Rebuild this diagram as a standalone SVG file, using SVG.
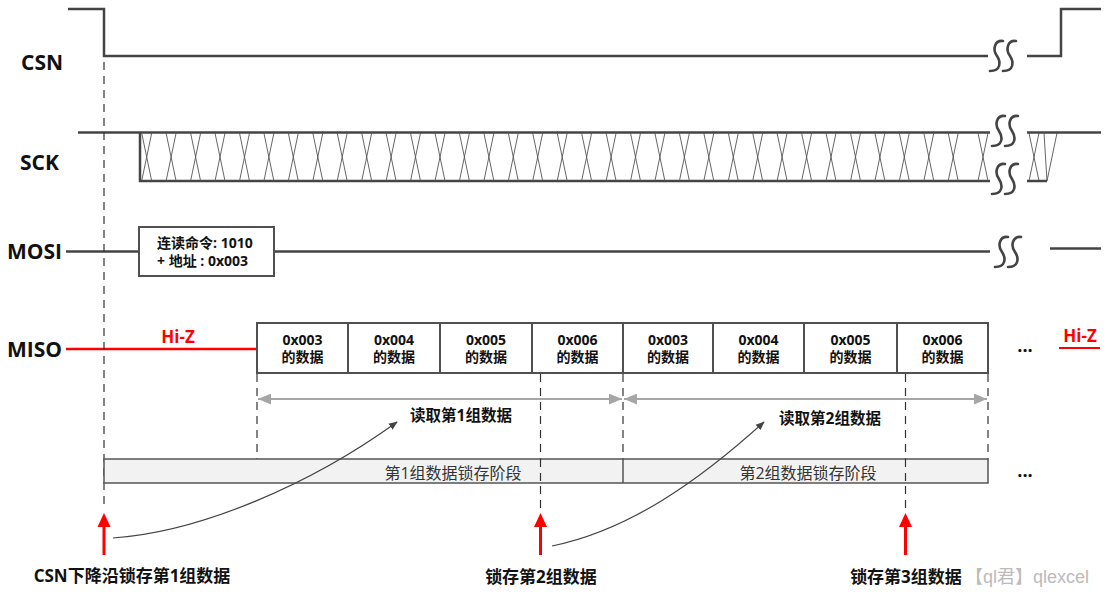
<svg xmlns="http://www.w3.org/2000/svg" xmlns:xlink="http://www.w3.org/1999/xlink" width="1110" height="595" viewBox="0 0 1110 595">
<style>
.sig{fill:none;stroke:#444;stroke-width:2.5}
.dash{fill:none;stroke:#333;stroke-width:1.2;stroke-dasharray:8 6}
.box{fill:#fff;stroke:#505050;stroke-width:2}
.lbl{font-family:"Open Sans","Noto Sans CJK SC",sans-serif;font-weight:bold;font-size:21px;fill:#111}
.bt{font-family:"Open Sans","Noto Sans CJK SC",sans-serif;font-weight:bold;font-size:14px;fill:#111;text-anchor:middle}
.ct{font-family:"Open Sans","Noto Sans CJK SC",sans-serif;font-weight:bold;font-size:15.5px;fill:#111;text-anchor:middle}
.nt{font-family:"Open Sans","Noto Sans CJK SC",sans-serif;font-size:16px;fill:#333;text-anchor:middle}
.red{font-family:"Open Sans","Noto Sans CJK SC",sans-serif;font-weight:bold;font-size:17px;fill:#f00;text-anchor:middle}
.ss{fill:none;stroke:#444;stroke-width:2.6;stroke-linecap:round}
.xx{fill:none;stroke:#555;stroke-width:0.9}
.gray{fill:none;stroke:#a6a6a6;stroke-width:2}
.curve{fill:none;stroke:#444;stroke-width:1.2}
</style>
<defs>
<path id="ss" d="M13 1C5 0 2 9 7 16C11 22 11 31 0 31M26 1C18 0 15 9 20 16C24 22 24 31 13 31"/>
<path id="x" d="M-5 0L5 48M5 0L-5 48"/>
<marker id="ah" viewBox="0 0 10 10" refX="9" refY="5" markerWidth="9" markerHeight="9" markerUnits="userSpaceOnUse" orient="auto">
<path d="M0 1L10 5L0 9z" fill="#444"/>
</marker>
<marker id="gh" viewBox="0 0 12 10" refX="12" refY="5" markerWidth="13" markerHeight="11" markerUnits="userSpaceOnUse" orient="auto-start-reverse">
<path d="M0 0L12 5L0 10z" fill="#a6a6a6"/>
</marker>
</defs>

<g id="labels">
<text class="lbl" x="21" y="70">CSN</text>
<text class="lbl" x="20" y="170">SCK</text>
<text class="lbl" x="7" y="259">MOSI</text>
<text class="lbl" x="7" y="357">MISO</text>
</g>

<g id="csn">
<path class="sig" d="M68 9H104V56H988"/>
<use href="#ss" class="ss" x="990" y="40"/>
<path class="sig" d="M1027 56H1061V9H1101"/>
</g>

<g id="sck">
<path class="sig" d="M78 132.5H990"/>
<path class="sig" d="M140 132.5V181H990"/>
<g class="xx">
<use href="#x" x="146.7" y="133"/><use href="#x" x="171.1" y="133"/><use href="#x" x="195.6" y="133"/><use href="#x" x="220" y="133"/>
<use href="#x" x="244.5" y="133"/><use href="#x" x="268.9" y="133"/><use href="#x" x="293.3" y="133"/><use href="#x" x="317.8" y="133"/>
<use href="#x" x="342.2" y="133"/><use href="#x" x="366.7" y="133"/><use href="#x" x="391.1" y="133"/><use href="#x" x="415.5" y="133"/>
<use href="#x" x="440" y="133"/><use href="#x" x="464.4" y="133"/><use href="#x" x="488.9" y="133"/><use href="#x" x="513.3" y="133"/>
<use href="#x" x="537.7" y="133"/><use href="#x" x="562.2" y="133"/><use href="#x" x="586.6" y="133"/><use href="#x" x="611.1" y="133"/>
<use href="#x" x="635.5" y="133"/><use href="#x" x="659.9" y="133"/><use href="#x" x="684.4" y="133"/><use href="#x" x="708.8" y="133"/>
<use href="#x" x="733.3" y="133"/><use href="#x" x="757.7" y="133"/><use href="#x" x="782.1" y="133"/><use href="#x" x="806.6" y="133"/>
<use href="#x" x="831" y="133"/><use href="#x" x="855.5" y="133"/><use href="#x" x="879.9" y="133"/><use href="#x" x="904.3" y="133"/>
<use href="#x" x="928.8" y="133"/><use href="#x" x="953.2" y="133"/><use href="#x" x="983" y="133"/>
<use href="#x" x="1034" y="133"/>
<path d="M1044 133L1047 181M1057 133L1047 181"/>
</g>
<use href="#ss" class="ss" x="992" y="115"/>
<use href="#ss" class="ss" x="992" y="163"/>
<path class="sig" d="M1027 132.5H1101M1027 181H1047"/>
</g>

<g id="mosi">
<path class="sig" d="M66 251.5H139M274 251.5H990"/>
<rect class="box" x="139" y="227" width="135" height="49"/>
<text class="bt" x="157" y="248" style="text-anchor:start;font-size:14px">连读命令: 1010</text>
<text class="bt" x="157" y="266" style="text-anchor:start;font-size:14px">+ 地址 : 0x003</text>
<use href="#ss" class="ss" x="995" y="236"/>
<path class="sig" d="M1050 248.5H1101"/>
</g>

<g id="miso">
<path d="M66 349H257" fill="none" stroke="#f00" stroke-width="2.5"/>
<text class="red" x="178" y="343">Hi-Z</text>
<g id="d1"><rect class="box" x="257" y="323" width="91" height="50"/><text class="bt" x="302.5" y="345">0x003</text><text class="bt" x="302.5" y="362">的数据</text></g>
<g id="d2"><rect class="box" x="348" y="323" width="92" height="50"/><text class="bt" x="394" y="345">0x004</text><text class="bt" x="394" y="362">的数据</text></g>
<g id="d3"><rect class="box" x="440" y="323" width="92" height="50"/><text class="bt" x="486" y="345">0x005</text><text class="bt" x="486" y="362">的数据</text></g>
<g id="d4"><rect class="box" x="532" y="323" width="91" height="50"/><text class="bt" x="577.5" y="345">0x006</text><text class="bt" x="577.5" y="362">的数据</text></g>
<g id="d5"><rect class="box" x="623" y="323" width="90" height="50"/><text class="bt" x="668" y="345">0x003</text><text class="bt" x="668" y="362">的数据</text></g>
<g id="d6"><rect class="box" x="713" y="323" width="91" height="50"/><text class="bt" x="758.5" y="345">0x004</text><text class="bt" x="758.5" y="362">的数据</text></g>
<g id="d7"><rect class="box" x="804" y="323" width="93" height="50"/><text class="bt" x="850.5" y="345">0x005</text><text class="bt" x="850.5" y="362">的数据</text></g>
<g id="d8"><rect class="box" x="897" y="323" width="91" height="50"/><text class="bt" x="942.5" y="345">0x006</text><text class="bt" x="942.5" y="362">的数据</text></g>
<text class="ct" x="1025" y="352" style="font-size:18px">...</text>
<text class="red" x="1080" y="342">Hi-Z</text>
<path d="M1059 348H1100" fill="none" stroke="#f00" stroke-width="2"/>
</g>

<g id="guides">
<path class="dash" d="M104 62V510"/>
<path class="dash" d="M257 374V459M623 374V459M988 374V459"/>
<path class="dash" d="M540.5 374V510M905.5 374V510"/>
</g>

<g id="read-spans">
<path class="gray" d="M258 399H622" marker-start="url(#gh)" marker-end="url(#gh)"/>
<path class="gray" d="M624 399H987" marker-start="url(#gh)" marker-end="url(#gh)"/>
<text class="ct" x="461" y="421">读取第1组数据</text>
<text class="ct" x="830" y="424">读取第2组数据</text>
</g>

<g id="latch-bar">
<rect x="104" y="459" width="884" height="24" fill="#f2f2f2" stroke="#555" stroke-width="1.5"/>
<path d="M623 459V483" stroke="#555" stroke-width="1.5"/>
<path class="dash" d="M540.5 459V483M905.5 459V483"/>
<text class="nt" x="453" y="479">第1组数据锁存阶段</text>
<text class="nt" x="808" y="479">第2组数据锁存阶段</text>
<text class="ct" x="1025" y="477" style="font-size:18px">...</text>
</g>

<g id="connectors">
<path class="curve" d="M113 538C200 532 310 485 397 422" marker-end="url(#ah)"/>
<path class="curve" d="M552 546C630 530 700 480 764 422" marker-end="url(#ah)"/>
<g fill="#f00">
<path d="M104 555V524M540.5 555V524M905.5 555V524" stroke="#f00" stroke-width="3"/>
<path d="M104 513L97.5 527H110.5z"/>
<path d="M540.5 513L534 527H547z"/>
<path d="M905.5 513L899 527H912z"/>
</g>
</g>

<g id="bottom-labels">
<text class="ct" x="132" y="582" style="font-size:17px">CSN下降沿锁存第1组数据</text>
<text class="ct" x="541" y="583" style="font-size:17px">锁存第2组数据</text>
<text class="ct" x="906" y="583" style="font-size:17px">锁存第3组数据</text>
<text x="965" y="583" font-family="Liberation Sans,'Noto Sans CJK SC',sans-serif" font-size="18" fill="#bbb">【ql君】qlexcel</text>
</g>
</svg>
